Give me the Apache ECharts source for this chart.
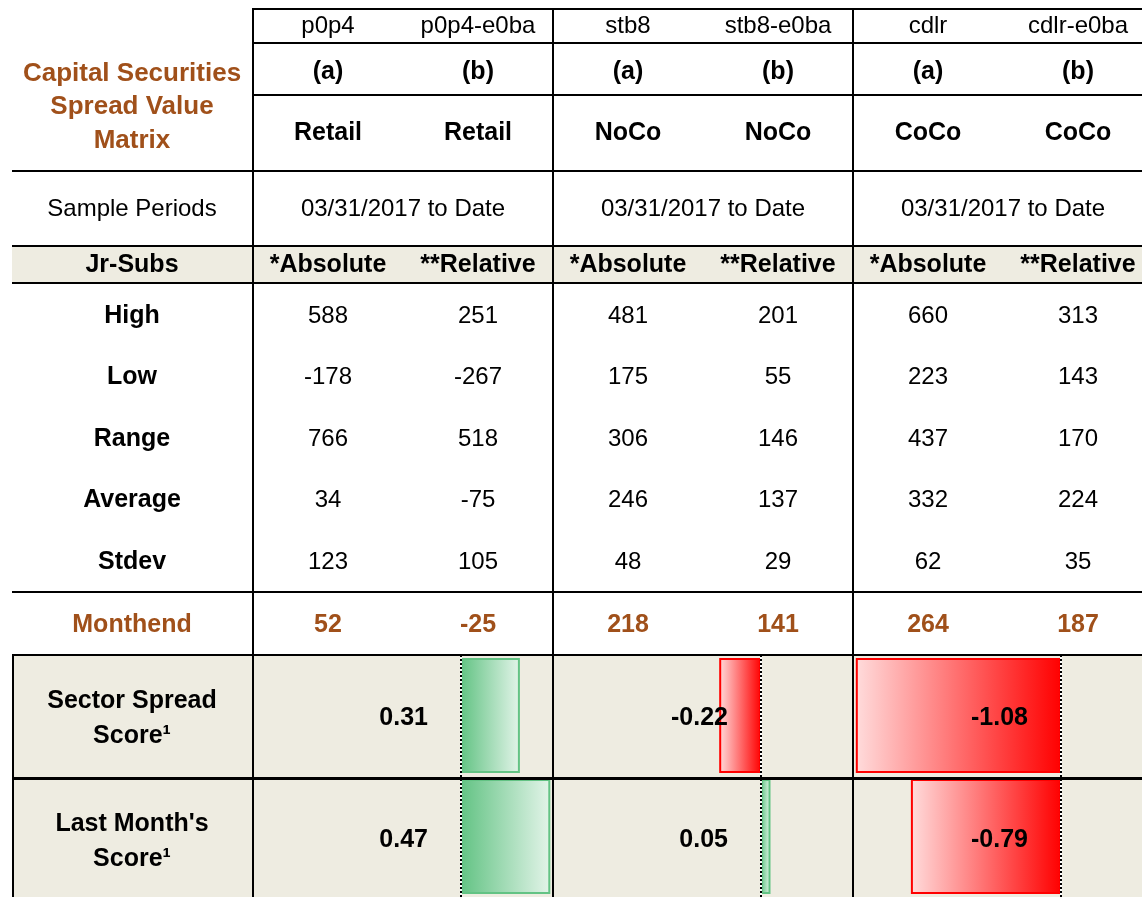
<!DOCTYPE html>
<html>
<head>
<meta charset="utf-8">
<script src="https://cdn.jsdelivr.net/npm/echarts@6/dist/echarts.min.js"></script>
<style>
  body { margin: 0; background: #fff; }
  #chart { width: 1142px; height: 897px; }
</style>
</head>
<body>
<div id="chart"></div>
<script>
// 表格数据
const titleLines = ['Capital Securities', 'Spread Value', 'Matrix'];
const seriesNames = ['p0p4', 'p0p4-e0ba', 'stb8', 'stb8-e0ba', 'cdlr', 'cdlr-e0ba'];
const subLetters = ['(a)', '(b)', '(a)', '(b)', '(a)', '(b)'];
const sectors = ['Retail', 'Retail', 'NoCo', 'NoCo', 'CoCo', 'CoCo'];
const samplePeriods = ['03/31/2017 to Date', '03/31/2017 to Date', '03/31/2017 to Date'];
const measureHeaders = ['*Absolute', '**Relative', '*Absolute', '**Relative', '*Absolute', '**Relative'];
const statLabels = ['High', 'Low', 'Range', 'Average', 'Stdev'];
const high = [588, 251, 481, 201, 660, 313];
const low = [-178, -267, 175, 55, 223, 143];
const range = [766, 518, 306, 146, 437, 170];
const average = [34, -75, 246, 137, 332, 224];
const stdev = [123, 105, 48, 29, 62, 35];
const monthend = [52, -25, 218, 141, 264, 187];
const scoreCategories = ['Sector Spread Score', "Last Month's Score"];
const sectorScore = [0.31, -0.22, -1.08];
const lastMonthScore = [0.47, 0.05, -0.79];

const BROWN = '#A0501A';
const SHADE = '#EEECE1';
const FONT = '"Liberation Sans", Arial, sans-serif';
const groupX = [253, 553, 853];
const colX = [328, 478, 628, 778, 928, 1078];
const PX_PER_UNIT = 190;
const AXIS_MIN = -1.1;

function txt(text, x, y, opt) {
    opt = opt || {};
    return {
        type: 'text',
        z: 100,
        x: x,
        y: y,
        style: {
            text: text,
            fill: opt.color || '#000',
            font: (opt.bold ? 'bold ' + (opt.size || 25) + 'px ' : '24px ') + FONT,
            align: opt.align || 'center',
            textAlign: opt.align || 'center',
            verticalAlign: 'middle',
            textVerticalAlign: 'middle'
        }
    };
}

function hline(y, x1, w) {
    return { type: 'line', z: 50, shape: { x1: x1, y1: y, x2: 1142, y2: y }, style: { stroke: '#000', lineWidth: w || 2 } };
}

function vline(x, y1, y2) {
    return { type: 'line', z: 50, shape: { x1: x, y1: y1, x2: x, y2: y2 }, style: { stroke: '#000', lineWidth: 2 } };
}

const elements = [];

// 背景
elements.push({ type: 'rect', z: 0, shape: { x: 12, y: 246, width: 1130, height: 37 }, style: { fill: SHADE } });
elements.push({ type: 'rect', z: 0, shape: { x: 12, y: 655, width: 1130, height: 242 }, style: { fill: SHADE } });

// 表格线
[9, 43, 95].forEach(y => elements.push(hline(y, 253)));
[171, 246, 283, 592, 655].forEach(y => elements.push(hline(y, 12)));
elements.push(hline(778.5, 12, 3));
groupX.forEach(x => elements.push(vline(x, 8, 897)));
elements.push(vline(13, 654, 897));

// 标题
const titleY = [73.5, 106.5, 140.5];
titleLines.forEach((t, i) => elements.push(txt(t, 132, titleY[i], { bold: true, size: 26, color: BROWN })));

// 表头
seriesNames.forEach((t, i) => elements.push(txt(t, colX[i], 26.5)));
subLetters.forEach((t, i) => elements.push(txt(t, colX[i], 72, { bold: true })));
sectors.forEach((t, i) => elements.push(txt(t, colX[i], 133.5, { bold: true })));
elements.push(txt('Sample Periods', 132, 209));
samplePeriods.forEach((t, i) => elements.push(txt(t, groupX[i] + 150, 209)));
elements.push(txt('Jr-Subs', 132, 265, { bold: true }));
measureHeaders.forEach((t, i) => elements.push(txt(t, colX[i], 265, { bold: true })));

// 统计行
const statRows = [high, low, range, average, stdev];
statRows.forEach((row, r) => {
    const y = 316 + r * 61.5;
    elements.push(txt(statLabels[r], 132, y, { bold: true }));
    row.forEach((v, i) => elements.push(txt(String(v), colX[i], y)));
});

// 月末
elements.push(txt('Monthend', 132, 625, { bold: true, color: BROWN }));
monthend.forEach((v, i) => elements.push(txt(String(v), colX[i], 625, { bold: true, color: BROWN })));

// 评分行标签
elements.push(txt('Sector Spread', 132, 701.5, { bold: true }));
elements.push(txt('Score\u00b9', 132, 736, { bold: true }));
elements.push(txt("Last Month's", 132, 824, { bold: true }));
elements.push(txt('Score\u00b9', 132, 859, { bold: true }));
sectorScore.forEach((v, g) => elements.push(txt(v.toFixed(2), groupX[g] + 175, 718.5, { bold: true, align: 'right' })));
lastMonthScore.forEach((v, g) => elements.push(txt(v.toFixed(2), groupX[g] + 175, 840.5, { bold: true, align: 'right' })));

// 数据条
function barItem(v) {
    const pos = v >= 0;
    return {
        value: v,
        itemStyle: {
            color: new echarts.graphic.LinearGradient(0, 0, 1, 0, pos
                ? [{ offset: 0, color: '#63C384' }, { offset: 1, color: '#E3F4E9' }]
                : [{ offset: 0, color: '#FFDCDC' }, { offset: 1, color: '#FF0000' }]),
            borderColor: pos ? '#63C384' : '#FF0000',
            borderWidth: 2
        }
    };
}

const grids = [], xAxes = [], yAxes = [], series = [];
groupX.forEach((gx, g) => {
    // 网格不能超出画布, 按宽度算最大值以保持同一比例
    const w = Math.min(304, 1142 - (gx - 1));
    grids.push({ left: gx - 1, top: 655, width: w, height: 246 });
    xAxes.push({ type: 'value', gridIndex: g, min: AXIS_MIN, max: AXIS_MIN + w / PX_PER_UNIT, show: false });
    yAxes.push({ type: 'category', gridIndex: g, data: scoreCategories, inverse: true, show: false });
    series.push({
        type: 'bar',
        xAxisIndex: g,
        yAxisIndex: g,
        barWidth: 115,
        silent: true,
        data: [barItem(sectorScore[g]), barItem(lastMonthScore[g])],
        markLine: {
            silent: true,
            symbol: 'none',
            label: { show: false },
            animation: false,
            data: [
                { xAxis: 0, lineStyle: { color: '#fff', type: 'solid', width: 2 } },
                { xAxis: 0, lineStyle: { color: '#000', type: [2, 2], width: 2 } }
            ]
        }
    });
});

const myChart = echarts.init(document.getElementById('chart'));
myChart.setOption({
    animation: false,
    backgroundColor: '#fff',
    grid: grids,
    xAxis: xAxes,
    yAxis: yAxes,
    series: series,
    graphic: { elements: elements }
});
</script>
</body>
</html>
